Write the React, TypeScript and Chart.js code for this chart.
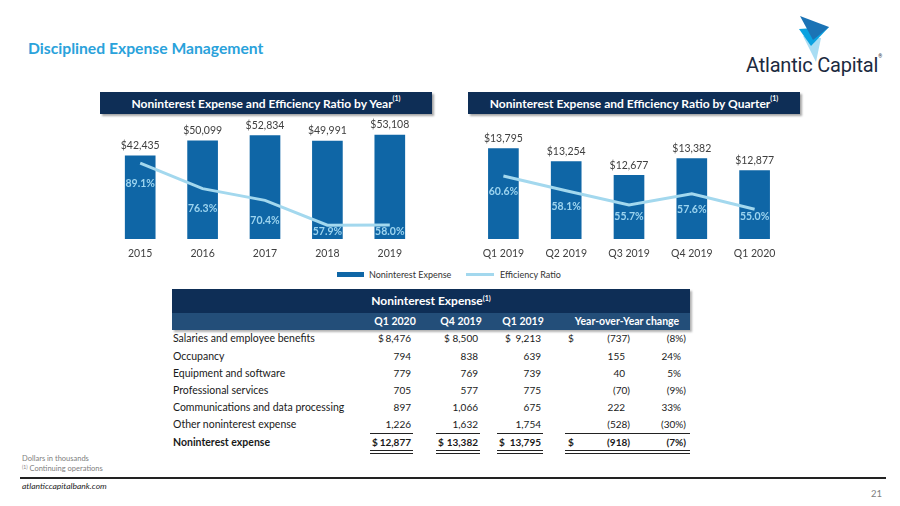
import React, { useEffect, useRef } from "react";
import { Chart, registerables } from "chart.js";
Chart.register(...registerables);

// ---- chart data ----
const yearLabels = ["2015", "2016", "2017", "2018", "2019"];
const yearExpense = [42435, 50099, 52834, 49991, 53108];
const yearRatio = [89.1, 76.3, 70.4, 57.9, 58.0];

const quarterLabels = ["Q1 2019", "Q2 2019", "Q3 2019", "Q4 2019", "Q1 2020"];
const quarterExpense = [13795, 13254, 12677, 13382, 12877];
const quarterRatio = [60.6, 58.1, 55.7, 57.6, 55.0];

// ---- table data ----
const tableColumns = ["Q1 2020", "Q4 2019", "Q1 2019"];
const rowLabels = [
  "Salaries and employee benefits",
  "Occupancy",
  "Equipment and software",
  "Professional services",
  "Communications and data processing",
  "Other noninterest expense",
  "Noninterest expense",
];
const q1_2020 = [8476, 794, 779, 705, 897, 1226, 12877];
const q4_2019 = [8500, 838, 769, 577, 1066, 1632, 13382];
const q1_2019 = [9213, 639, 739, 775, 675, 1754, 13795];
const yoyChange = [-737, 155, 40, -70, 222, -528, -918];
const yoyPct = [-8, 24, 5, -9, 33, -30, -7];

const BAR = "#0F66A6";
const LINE = "#A3D8EE";
const NAVY = "#0E2E56";
const FONT = "Lato, 'Open Sans', sans-serif";

const labelPlugin = {
  id: "valueLabels",
  afterDatasetsDraw(chart: any, _args: any, opts: any) {
    const ctx = chart.ctx;
    const area = chart.chartArea;
    const barMeta = chart.getDatasetMeta(1);
    const lineMeta = chart.getDatasetMeta(0);
    const bars = chart.data.datasets[1].data;
    const ratios = chart.data.datasets[0].data;
    ctx.save();
    ctx.textAlign = "center";
    ctx.textBaseline = "middle";
    ctx.font = `10.5px ${FONT}`;
    ctx.fillStyle = "#404040";
    barMeta.data.forEach((el: any, i: number) => {
      ctx.fillText("$" + Number(bars[i]).toLocaleString("en-US"), el.x, el.y - 10);
    });
    ctx.font = `bold 10.5px ${FONT}`;
    ctx.fillStyle = "#9CD4EF";
    lineMeta.data.forEach((pt: any, i: number) => {
      const y = Math.min(pt.y + opts.offset, area.bottom - opts.clamp);
      ctx.fillText(Number(ratios[i]).toFixed(1) + "%", pt.x, y);
    });
    ctx.restore();
  },
};

function makeChart(
  canvas: HTMLCanvasElement,
  labels: string[],
  expense: number[],
  ratio: number[],
  yMin: number,
  yMax: number,
  y2Min: number,
  y2Max: number,
  padding: any,
  offset: number,
  clamp: number
) {
  return new Chart(canvas, {
    type: "bar",
    data: {
      labels,
      datasets: [
        {
          type: "line",
          label: "Efficiency Ratio",
          data: ratio,
          borderColor: LINE,
          backgroundColor: LINE,
          borderWidth: 3,
          pointRadius: 0,
          tension: 0,
          yAxisID: "y2",
          order: 0,
        } as any,
        {
          type: "bar",
          label: "Noninterest Expense",
          data: expense,
          backgroundColor: BAR,
          barThickness: 30,
          yAxisID: "y",
          order: 1,
        },
      ],
    },
    options: {
      responsive: false,
      animation: false,
      layout: { padding },
      plugins: {
        legend: { display: false },
        tooltip: { enabled: false },
        valueLabels: { offset, clamp },
      } as any,
      scales: {
        x: {
          grid: { display: false, drawTicks: false },
          border: { display: false },
          ticks: { color: "#404040", font: { family: FONT, size: 10.5 }, padding: 8 },
          afterFit: (s: any) => {
            s.height = 26;
          },
        },
        y: { display: false, min: yMin, max: yMax },
        y2: { display: false, min: y2Min, max: y2Max, position: "right" },
      },
    },
    plugins: [labelPlugin],
  });
}

const fmtNum = (v: number) => (v < 0 ? `(${Math.abs(v).toLocaleString("en-US")})` : v.toLocaleString("en-US"));
const fmtPct = (v: number) => (v < 0 ? `(${Math.abs(v)}%)` : `${v}%`);

function Header({ left, top, width, height, text }: any) {
  return (
    <div
      style={{
        position: "absolute",
        left,
        top,
        width,
        height,
        background: NAVY,
        color: "#fff",
        fontWeight: 700,
        fontSize: 12,
        display: "flex",
        alignItems: "center",
        justifyContent: "center",
        boxShadow: "2px 2px 2px rgba(0,0,0,0.35)",
      }}
    >
      <span>
        {text}
        <sup style={{ fontSize: 7, verticalAlign: "top", position: "relative", top: -2 }}>(1)</sup>
      </span>
    </div>
  );
}

export default function App() {
  const leftRef = useRef<HTMLCanvasElement>(null);
  const rightRef = useRef<HTMLCanvasElement>(null);

  useEffect(() => {
    const c1 = makeChart(leftRef.current!, yearLabels, yearExpense, yearRatio, 0, 60000, 51, 110,
      { left: 9, right: 14, top: 6.5, bottom: 0 }, 20, 7);
    const c2 = makeChart(rightRef.current!, quarterLabels, quarterExpense, quarterRatio, 10000, 15000, 50, 70,
      { left: 7, right: 14, top: 5, bottom: 0 }, 16, 22);
    return () => {
      c1.destroy();
      c2.destroy();
    };
  }, []);

  const rowTop = 330.4;
  const rowH = 17.2;
  const valueCols = [
    { data: q1_2020, dollar: 378, dollarTotal: 372, right: 411 },
    { data: q4_2019, dollar: 444, dollarTotal: 438, right: 478 },
    { data: q1_2019, dollar: 505, dollarTotal: 499, right: 541 },
  ];
  const ulSpans = [
    [370, 413],
    [436, 480],
    [497, 543],
    [565, 690],
  ];

  const cells: any[] = [];
  rowLabels.forEach((lab, i) => {
    const top = rowTop + i * rowH;
    const isTotal = i === rowLabels.length - 1;
    const base: any = {
      position: "absolute",
      top,
      height: rowH,
      lineHeight: `${rowH}px`,
      fontSize: 10,
      color: "#1a1a1a",
      fontWeight: isTotal ? 700 : 400,
      whiteSpace: "nowrap",
    };
    cells.push(<div key={`l${i}`} style={{ ...base, left: 173, fontSize: 10.5 }}>{lab}</div>);
    valueCols.forEach((c, j) => {
      if (i === 0 || isTotal) {
        cells.push(
          <div key={`d${i}-${j}`} style={{ ...base, left: isTotal ? c.dollarTotal : c.dollar }}>$</div>
        );
      }
      cells.push(
        <div key={`v${i}-${j}`} style={{ ...base, left: c.right - 80, width: 80, textAlign: "right" }}>
          {fmtNum(c.data[i])}
        </div>
      );
    });
    if (i === 0 || isTotal) {
      cells.push(<div key={`yd${i}`} style={{ ...base, left: 568 }}>$</div>);
    }
    const ch = yoyChange[i];
    cells.push(
      <div key={`yc${i}`} style={{ ...base, left: 550, width: 80, textAlign: "right", paddingRight: ch < 0 ? 0 : 5, boxSizing: "border-box" }}>
        {fmtNum(ch)}
      </div>
    );
    const pc = yoyPct[i];
    cells.push(
      <div key={`yp${i}`} style={{ ...base, left: 606, width: 80, textAlign: "right", paddingRight: pc < 0 ? 0 : 5, boxSizing: "border-box" }}>
        {fmtPct(pc)}
      </div>
    );
  });

  const lines: any[] = [];
  const ulTop = rowTop + 6 * rowH - 0.5;
  const totalBottom = rowTop + 7 * rowH;
  ulSpans.forEach(([a, b], k) => {
    lines.push(<div key={`u${k}`} style={{ position: "absolute", left: a, width: b - a, top: ulTop, height: 1, background: "#222" }} />);
    lines.push(<div key={`d1${k}`} style={{ position: "absolute", left: a, width: b - a, top: totalBottom - 0.5, height: 1, background: "#222" }} />);
    lines.push(<div key={`d2${k}`} style={{ position: "absolute", left: a, width: b - a, top: totalBottom + 1.8, height: 1, background: "#222" }} />);
  });

  const subCenters = [395, 461, 523];

  return (
    <div
      style={{
        position: "absolute",
        left: 0,
        top: 0,
        width: 900,
        height: 506,
        background: "#fff",
        overflow: "hidden",
        fontFamily: FONT,
      }}
    >
      <div style={{ position: "absolute", left: 28, top: 39, fontSize: 15.7, fontWeight: 700, color: "#2AA2DB", whiteSpace: "nowrap" }}>
        Disciplined Expense Management
      </div>

      {/* logo */}
      <svg style={{ position: "absolute", left: 0, top: 0 }} width={900} height={100}>
        <polygon points="803,36 821,38 816,62" fill="#A8DDF3" />
        <polygon points="799,29 829,27 811,46" fill="#0AA2E0" />
        <polygon points="800,16 829,27 813,40" fill="#1B73B5" />
      </svg>
      <div style={{ position: "absolute", left: 746, top: 53, fontSize: 20, fontFamily: "Roboto, sans-serif", fontWeight: 400, color: "#1C2A40", whiteSpace: "nowrap", letterSpacing: -0.2 }}>
        Atlantic Capital<span style={{ fontSize: 5, verticalAlign: "top" }}>®</span>
      </div>

      <Header left={100} top={92} width={332} height={22} text="Noninterest Expense and Efficiency Ratio by Year" />
      <Header left={468} top={92} width={332} height={22} text="Noninterest Expense and Efficiency Ratio by Quarter" />

      <canvas ref={leftRef} width={335} height={150} style={{ position: "absolute", left: 100, top: 115, width: 335, height: 150 }} />
      <canvas ref={rightRef} width={335} height={150} style={{ position: "absolute", left: 465, top: 115, width: 335, height: 150 }} />

      {/* legend */}
      <div style={{ position: "absolute", left: 337, top: 272, width: 27, height: 5, background: BAR }} />
      <div style={{ position: "absolute", left: 369, top: 267, fontSize: 9, color: "#333", lineHeight: "15px", whiteSpace: "nowrap" }}>Noninterest Expense</div>
      <div style={{ position: "absolute", left: 466, top: 273, width: 28, height: 3, background: LINE }} />
      <div style={{ position: "absolute", left: 500, top: 267, fontSize: 9, color: "#333", lineHeight: "15px", whiteSpace: "nowrap" }}>Efficiency Ratio</div>

      {/* table header */}
      <div style={{ position: "absolute", left: 172, top: 289, width: 518, height: 41, boxShadow: "2px 2px 2px rgba(0,0,0,0.3)" }}>
        <div style={{ position: "absolute", left: 0, top: 0, width: 518, height: 24, background: NAVY, color: "#fff", fontWeight: 700, fontSize: 12, lineHeight: "24px", textAlign: "center" }}>
          Noninterest Expense<sup style={{ fontSize: 7, verticalAlign: "top", position: "relative", top: -3 }}>(1)</sup>
        </div>
        <div style={{ position: "absolute", left: 0, top: 24, width: 518, height: 17, background: "#234E79" }} />
      </div>
      {tableColumns.map((t, k) => (
        <div key={t + k} style={{ position: "absolute", left: subCenters[k] - 40, width: 80, top: 313, height: 17, lineHeight: "17px", textAlign: "center", color: "#fff", fontWeight: 700, fontSize: 10.5 }}>
          {t}
        </div>
      ))}
      <div style={{ position: "absolute", left: 566, width: 122, top: 313, height: 17, lineHeight: "17px", textAlign: "center", color: "#fff", fontWeight: 700, fontSize: 10.5, whiteSpace: "nowrap" }}>
        Year-over-Year change
      </div>

      {cells}
      {lines}

      {/* footer */}
      <div style={{ position: "absolute", left: 22, top: 454, fontSize: 7.5, color: "#808080", whiteSpace: "nowrap" }}>Dollars in thousands</div>
      <div style={{ position: "absolute", left: 22, top: 464, fontSize: 7.5, color: "#808080", whiteSpace: "nowrap" }}>
        <sup style={{ fontSize: 5, verticalAlign: "top" }}>(1)</sup> Continuing operations
      </div>
      <div style={{ position: "absolute", left: 20, top: 477, width: 866, height: 1.5, background: "#222" }} />
      <div style={{ position: "absolute", left: 22, top: 481, fontSize: 8.5, fontStyle: "italic", color: "#222", whiteSpace: "nowrap" }}>atlanticcapitalbank.com</div>
      <div style={{ position: "absolute", left: 860, width: 22, top: 488, fontSize: 9.5, color: "#808080", textAlign: "right" }}>21</div>
    </div>
  );
}
